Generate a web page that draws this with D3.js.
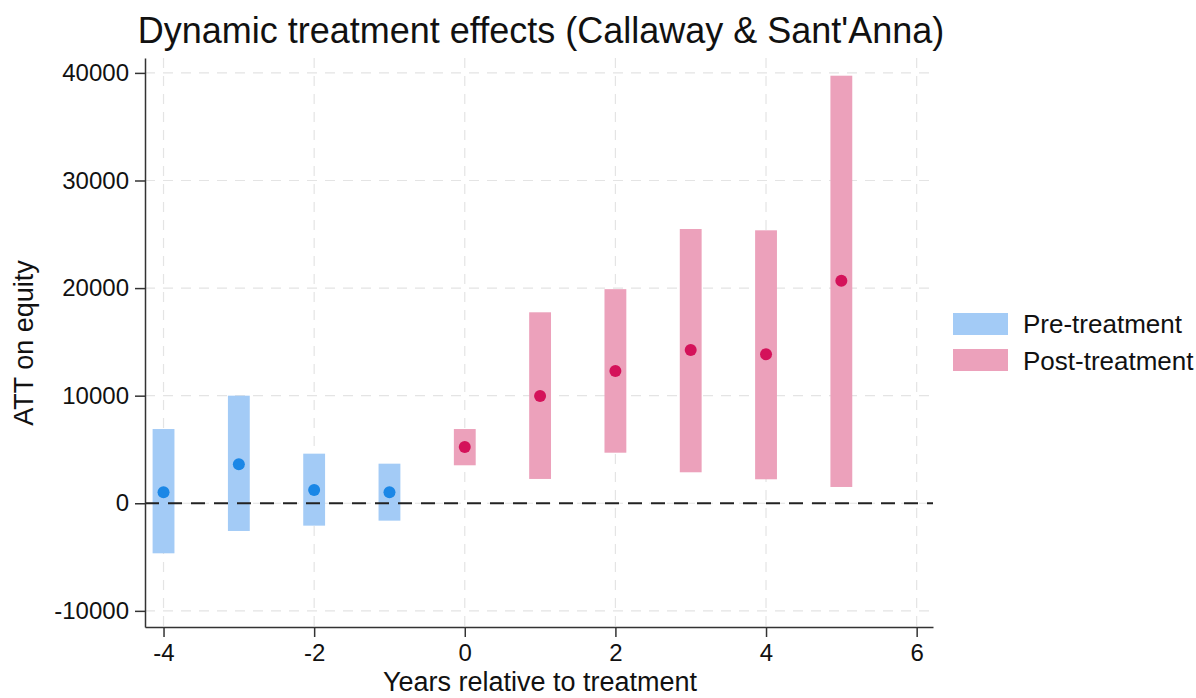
<!DOCTYPE html>
<html><head><meta charset="utf-8">
<script src="https://cdn.jsdelivr.net/npm/d3@7"></script>
<style>body{margin:0;background:#fff;} svg{display:block;font-family:"Liberation Sans",Arial,sans-serif;}</style>
</head><body>
<script>
const periods = [-4,-3,-2,-1,0,1,2,3,4,5];
const groups = ["pre","pre","pre","pre","post","post","post","post","post","post"];
const estimates = [1020,3625,1240,1020,5230,9970,12300,14250,13850,20690];
const ciLower = [-4650,-2575,-2080,-1615,3530,2260,4700,2880,2230,1515];
const ciUpper = [6900,10000,4610,3680,6900,17750,19900,25490,25370,39740];
const xTicks = [-4,-2,0,2,4,6];
const yTicks = [-10000,0,10000,20000,30000,40000];
const legendLabels = ["Pre-treatment","Post-treatment"];

const W=1196,H=698;
const svg=d3.select("body").append("svg").attr("width",W).attr("height",H);
const L=145,R=933,T=58,B=627;
const x=d3.scaleLinear().domain([-4.246,6.217]).range([L,R]);
const y=d3.scaleLinear().domain([-11500,41385]).range([B,T]);
const barFill={pre:"#a3cbf6",post:"#eca1bb"};
const ptFill={pre:"#1b87e6",post:"#d4125a"};
const fmt=d=>d<0?"-"+Math.abs(d):String(d);

// grid
const g=svg.append("g");
g.selectAll(".hg").data(yTicks).join("line")
 .attr("x1",L).attr("x2",R).attr("y1",d=>y(d)).attr("y2",d=>y(d))
 .attr("stroke","#e4e4e4").attr("stroke-width",1.2).attr("stroke-dasharray","10,8");
g.selectAll(".vg").data(xTicks).join("line")
 .attr("y1",T).attr("y2",B).attr("x1",d=>x(d)).attr("x2",d=>x(d))
 .attr("stroke","#e4e4e4").attr("stroke-width",1.2).attr("stroke-dasharray","10,8");

// bars
const bw=x(0.145)-x(0);
svg.selectAll(".ci").data(periods).join("rect")
 .attr("x",(d)=>x(d)-bw).attr("width",2*bw)
 .attr("y",(d,i)=>y(ciUpper[i])).attr("height",(d,i)=>y(ciLower[i])-y(ciUpper[i]))
 .attr("fill",(d,i)=>barFill[groups[i]]);

// zero line
svg.append("line").attr("x1",L).attr("x2",R).attr("y1",y(0)).attr("y2",y(0))
 .attr("stroke","#222").attr("stroke-width",2).attr("stroke-dasharray","14,9");

// points
svg.selectAll(".pt").data(periods).join("circle")
 .attr("cx",d=>x(d)).attr("cy",(d,i)=>y(estimates[i])).attr("r",6)
 .attr("fill",(d,i)=>ptFill[groups[i]]);

// axes
const xa=svg.append("g").attr("transform",`translate(0,${B})`)
 .call(d3.axisBottom(x).tickValues(xTicks).tickSize(10).tickPadding(7).tickSizeOuter(0).tickFormat(fmt));
const ya=svg.append("g").attr("transform",`translate(${L},0)`)
 .call(d3.axisLeft(y).tickValues(yTicks).tickSize(10).tickPadding(6).tickSizeOuter(0).tickFormat(fmt));
[xa,ya].forEach(a=>{
 a.select(".domain").attr("stroke","#333").attr("stroke-width",1.5);
 a.selectAll(".tick line").attr("stroke","#333").attr("stroke-width",1.5);
 a.selectAll("text").attr("font-size",24).attr("fill","#111").attr("font-family","Liberation Sans, Arial, sans-serif");
});

// title and axis labels
svg.append("text").attr("x",541).attr("y",43).attr("text-anchor","middle")
 .attr("font-size",36).attr("fill","#111").text("Dynamic treatment effects (Callaway & Sant'Anna)");
svg.append("text").attr("x",540).attr("y",691).attr("text-anchor","middle")
 .attr("font-size",27).attr("fill","#111").text("Years relative to treatment");
svg.append("text").attr("transform","translate(33,343) rotate(-90)").attr("text-anchor","middle")
 .attr("font-size",27).attr("fill","#111").text("ATT on equity");

// legend
const lg=svg.append("g");
legendLabels.forEach((lab,i)=>{
 const key=i===0?"pre":"post";
 lg.append("rect").attr("x",953).attr("y",313+i*36).attr("width",55).attr("height",22).attr("fill",barFill[key]);
 lg.append("text").attr("x",1023).attr("y",333+i*37).attr("font-size",26).attr("fill","#111").text(lab);
});
</script>
</body></html>
